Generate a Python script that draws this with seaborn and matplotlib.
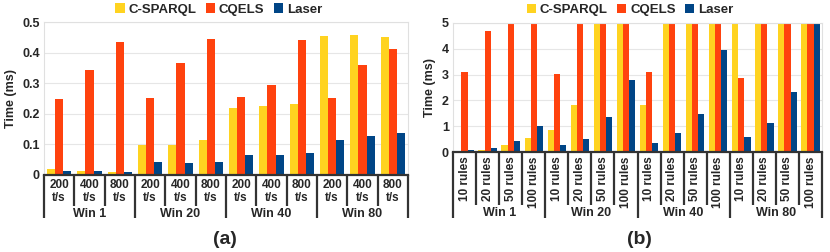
import numpy as np
import pandas as pd
import matplotlib
matplotlib.use("Agg")
import matplotlib.pyplot as plt
import matplotlib.transforms as mtrans
import seaborn as sns

# ---- data ----
series = ["C-SPARQL", "CQELS", "Laser"]
colors = ["#FFD320", "#FF420E", "#004586"]
windows = ["Win 1", "Win 20", "Win 40", "Win 80"]

rates = ["200\nt/s", "400\nt/s", "800\nt/s"]
a_csparql = [0.019, 0.012, 0.009, 0.098, 0.098, 0.113, 0.219, 0.225, 0.231, 0.454, 0.458, 0.452]
a_cqels = [0.249, 0.342, 0.435, 0.253, 0.365, 0.443, 0.254, 0.294, 0.441, 0.252, 0.359, 0.412]
a_laser = [0.013, 0.012, 0.011, 0.042, 0.039, 0.041, 0.064, 0.064, 0.073, 0.114, 0.127, 0.136]

rules = ["10 rules", "20 rules", "50 rules", "100 rules"]
# values above 5 ms are cut off at the top of the chart
b_csparql = [0.06, 0.1, 0.27, 0.57, 0.88, 1.83, 5, 5, 1.82, 5, 5, 5, 5, 5, 5, 5]
b_cqels = [3.1, 4.67, 5, 5, 3.04, 5, 5, 5, 3.1, 5, 5, 5, 2.86, 5, 5, 5]
b_laser = [0.09, 0.18, 0.43, 1.0, 0.27, 0.53, 1.37, 2.81, 0.37, 0.74, 1.49, 3.96, 0.59, 1.12, 2.32, 5]


def long_table(sub, vals):
    cats = [f"{w}|{s}" for w in windows for s in sub]
    rows = []
    for name, v in zip(series, vals):
        for c, x in zip(cats, v):
            rows.append({"cat": c, "series": name, "value": x})
    return pd.DataFrame(rows), cats


sns.set_style("white")
plt.rcParams["font.family"] = ["Liberation Sans", "DejaVu Sans"]
plt.rcParams["font.weight"] = "bold"

fig = plt.figure(figsize=(8.3, 2.52), dpi=100)
ax_a = fig.add_axes([0.053, 0.3056, 0.4386, 0.607])
ax_b = fig.add_axes([0.5458, 0.3956, 0.4446, 0.514])


def draw(ax, sub, vals, ymax, step, yfmt, rot, sep_small, sep_big, grp_y, lab_y):
    df, cats = long_table(sub, vals)
    sns.barplot(data=df, x="cat", y="value", hue="series", order=cats,
                hue_order=series, palette=colors, width=0.8, saturation=1,
                linewidth=0, ax=ax, legend=True)
    ax.set_ylim(0, ymax)
    ax.set_xlim(-0.5, len(cats) - 0.5)
    ticks = np.arange(0, ymax + step / 2, step)
    ax.set_yticks(ticks)
    ax.set_yticklabels([yfmt(t) for t in ticks], fontsize=9, fontweight="bold")
    ax.yaxis.grid(True, color="#e6e6e6", lw=0.8)
    ax.set_axisbelow(True)
    ax.set_xlabel("")
    ax.set_ylabel("Time (ms)", fontsize=9, fontweight="bold")
    ax.tick_params(axis="both", length=0, pad=3)
    for s in ["left", "top", "right"]:
        ax.spines[s].set_color("#e0e0e0")
        ax.spines[s].set_linewidth(0.8)
    ax.spines["bottom"].set_color("#333333")
    ax.spines["bottom"].set_linewidth(1.6)

    ax.set_xticks(range(len(cats)))
    if rot:
        ax.set_xticklabels([c.split("|")[1] for c in cats], rotation=90,
                           fontsize=8.5, fontweight="bold", va="top")
    else:
        ax.set_xticklabels([c.split("|")[1] for c in cats], fontsize=8.5,
                           fontweight="bold", linespacing=1.1)

    tr = mtrans.blended_transform_factory(ax.transData, ax.transAxes)
    n = len(sub)
    for i in range(len(cats) + 1):
        y1 = sep_big if i % n == 0 else sep_small
        ax.plot([i - 0.5, i - 0.5], [0, y1], transform=tr, color="#333333",
                lw=1.6, clip_on=False, solid_capstyle="butt")
    for g, w in enumerate(windows):
        ax.text(g * n + (n - 1) / 2, grp_y, w, transform=tr, ha="center",
                va="center", fontsize=9, fontweight="bold")
    ax.legend(loc="lower center", bbox_to_anchor=(0.48, 0.99), ncol=3,
              frameon=False, handlelength=0.7, handleheight=0.7,
              handletextpad=0.3, columnspacing=0.7,
              prop={"size": 9.5, "weight": "bold"}, borderaxespad=0.2)


draw(ax_a, rates, [a_csparql, a_cqels, a_laser], 0.5, 0.1,
     lambda t: "0" if t == 0 else f"{t:.1f}", False,
     -0.2, -0.28, -0.255, None)
draw(ax_b, rules, [b_csparql, b_cqels, b_laser], 5, 1,
     lambda t: f"{int(round(t))}", True,
     -0.41, -0.51, -0.47, None)

fig.text(0.271, 0.048, "(a)", ha="center", va="center", fontsize=14, fontweight="bold")
fig.text(0.771, 0.048, "(b)", ha="center", va="center", fontsize=14, fontweight="bold")

fig.savefig("out.png", dpi=100)
